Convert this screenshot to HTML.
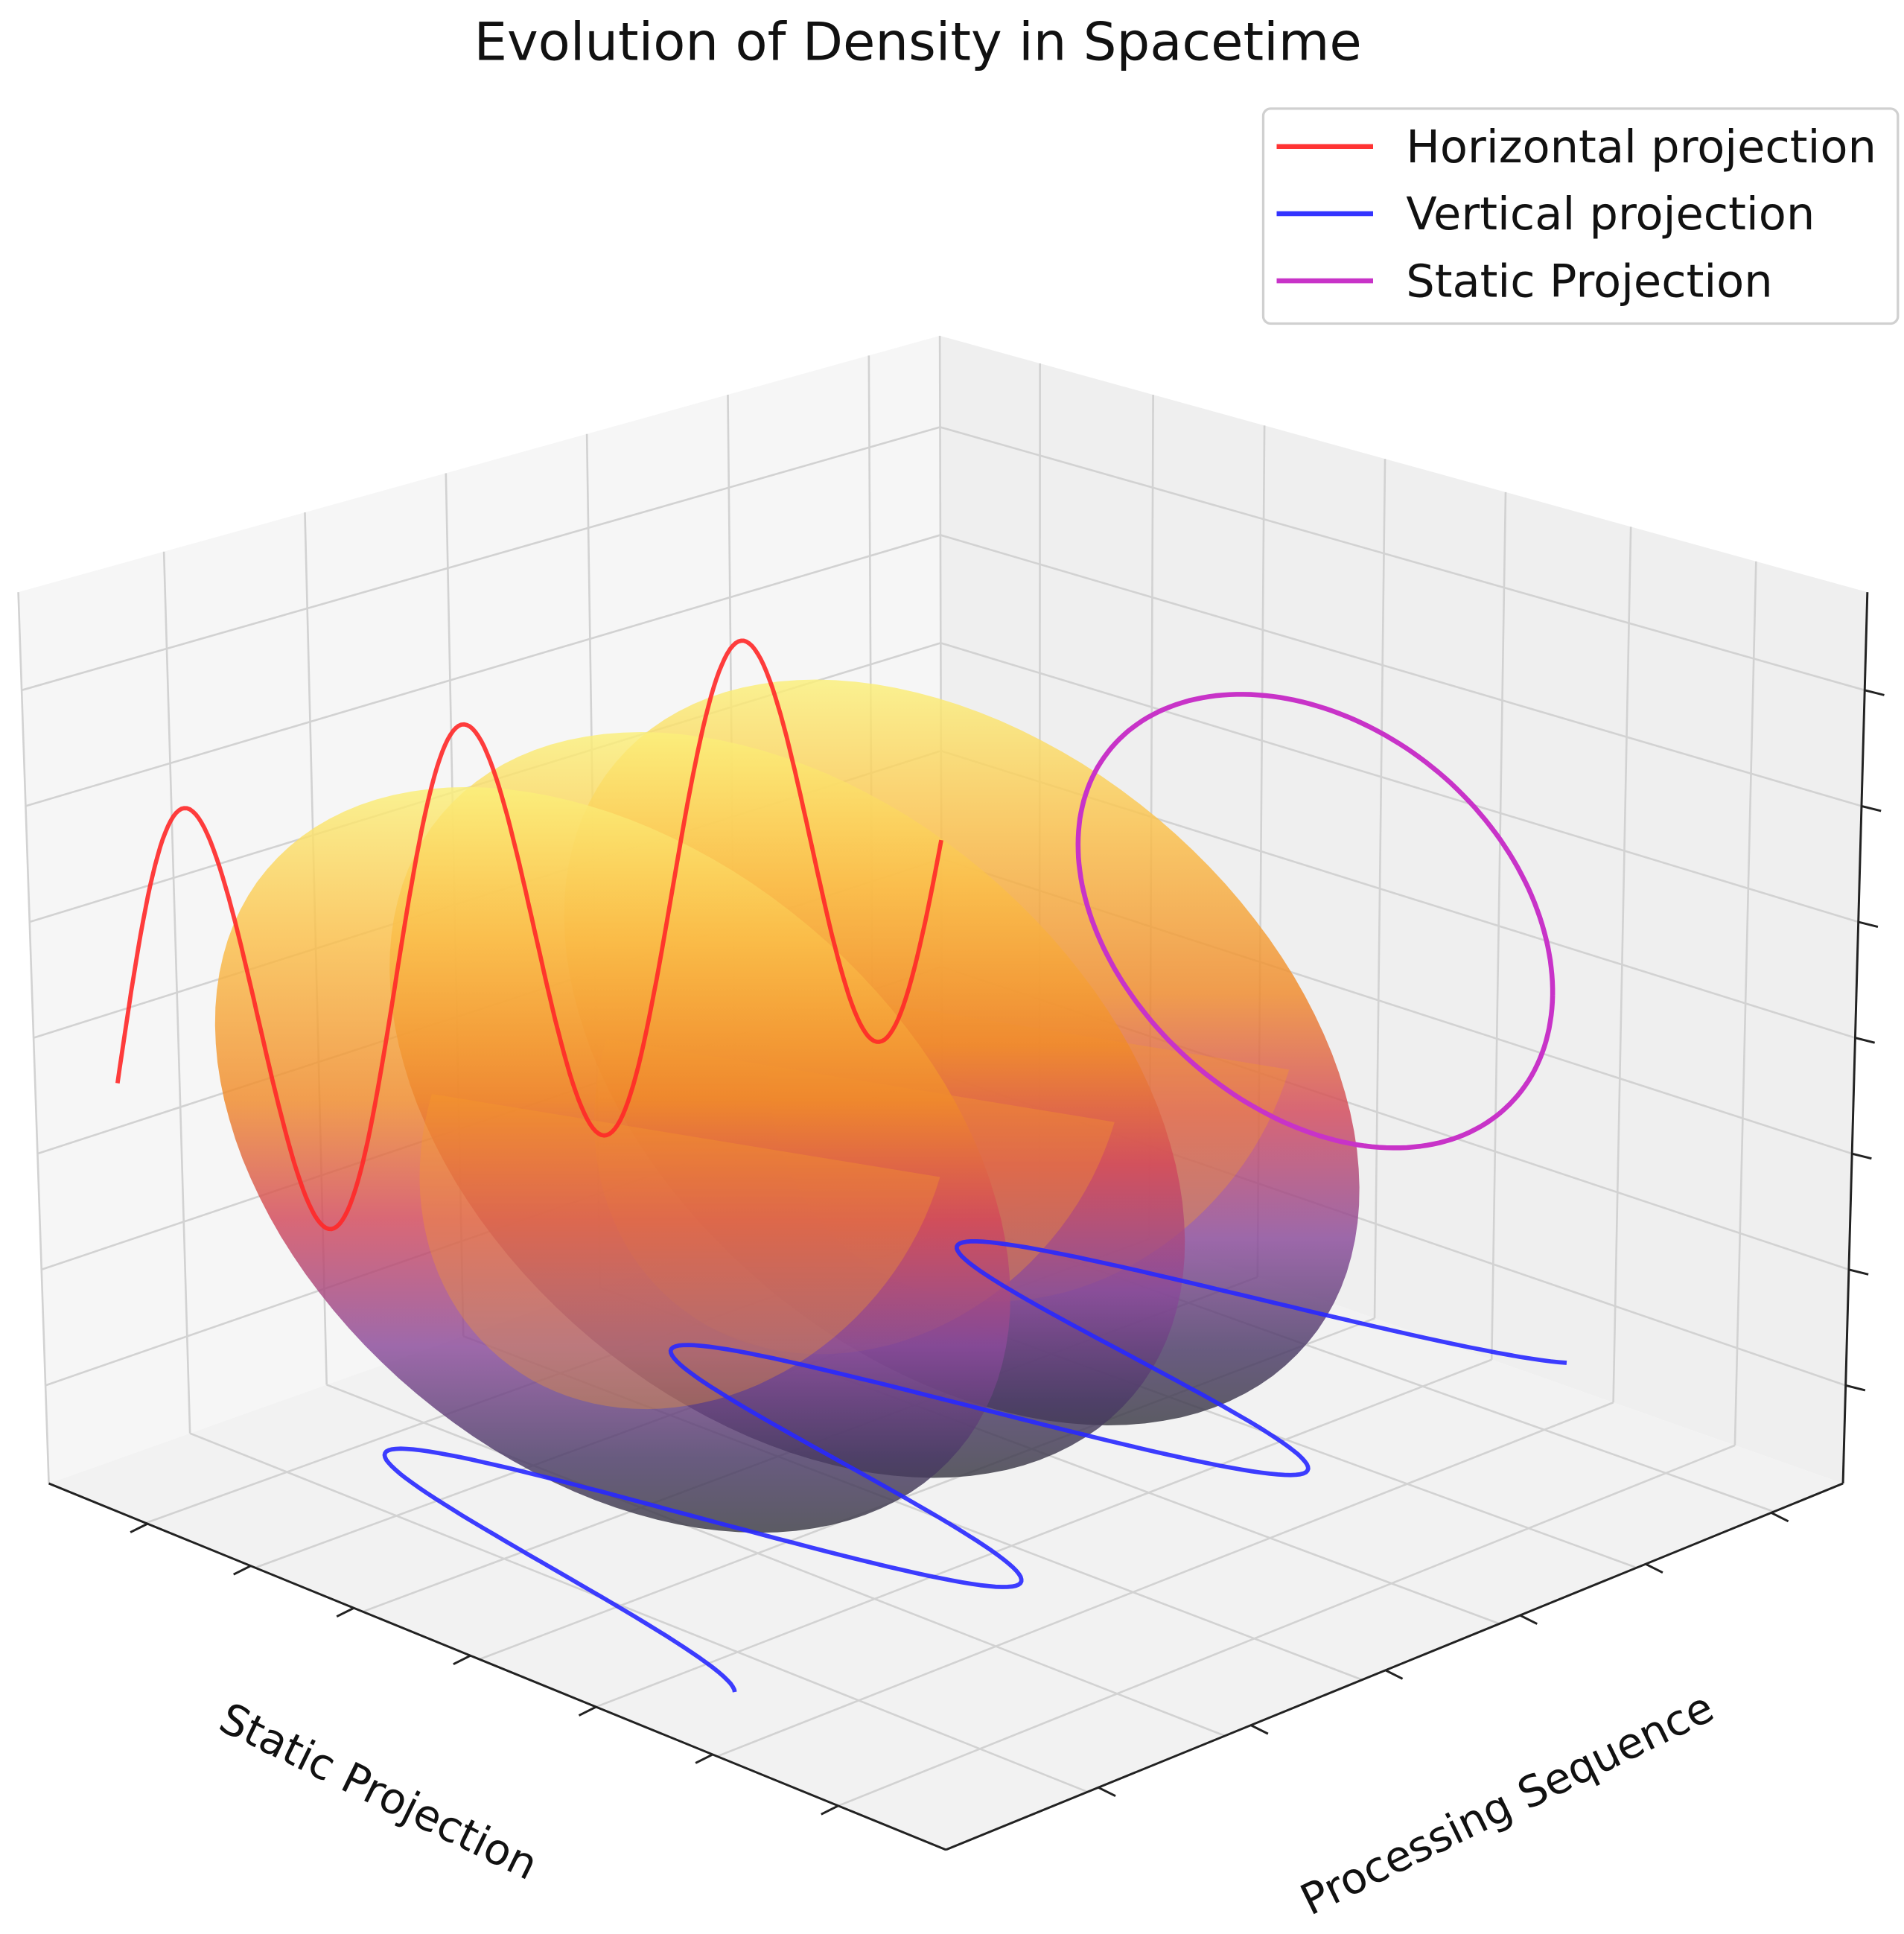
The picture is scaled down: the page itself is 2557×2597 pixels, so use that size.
<!DOCTYPE html>
<html><head><meta charset="utf-8"><style>
html,body{margin:0;padding:0;background:#fff;}
svg{display:block;font-family:"DejaVu Sans","Liberation Sans",sans-serif;}
</style></head><body>
<svg id="chart" width="2557" height="2597" viewBox="0 0 1560 1584" preserveAspectRatio="none" xmlns="http://www.w3.org/2000/svg">
<defs>
<linearGradient id="shellGrad" x1="0" y1="0" x2="0" y2="1">
<stop offset="0" stop-color="#fbf07a"/>
<stop offset="0.2" stop-color="#fbc04a"/>
<stop offset="0.42" stop-color="#f08a2a"/>
<stop offset="0.58" stop-color="#d2485a"/>
<stop offset="0.75" stop-color="#8a4a9a"/>
<stop offset="0.9" stop-color="#4a3a66"/>
<stop offset="1" stop-color="#3a3a44"/>
</linearGradient>
</defs>
<g id="walls"></g>
<g id="grid"></g>
<g id="axes"></g>
<g id="shells"></g>
<g id="series"></g>
<text x="752" y="49" font-size="43" text-anchor="middle" fill="#111">Evolution of Density in Spacetime</text>
<text x="305" y="1478" font-size="35" text-anchor="middle" fill="#111" transform="rotate(26 305 1478)">Static Projection</text>
<text x="1240" y="1488" font-size="35" text-anchor="middle" fill="#111" transform="rotate(-26 1240 1488)">Processing Sequence</text>
<g>
<rect x="1035" y="89" width="520" height="176" rx="6" fill="#fff" stroke="#d0d0d0" stroke-width="2"/>
<line x1="1046" y1="120" x2="1125" y2="120" stroke="#ff3333" stroke-width="4"/>
<text x="1152" y="133" font-size="37" fill="#111">Horizontal projection</text>
<line x1="1046" y1="175" x2="1125" y2="175" stroke="#3333ff" stroke-width="4"/>
<text x="1152" y="188" font-size="37" fill="#111">Vertical projection</text>
<line x1="1046" y1="230" x2="1125" y2="230" stroke="#c833c8" stroke-width="4"/>
<text x="1152" y="243" font-size="37" fill="#111">Static Projection</text>
</g>
</svg>
<script>
// Data (in normalized axis units)
const redParams = [0.44, 0.265, 0.305];      // center, amplitude, period along x
const redRange = [0.91, 0.0];
const blueParams = [0.40, 0.27, 0.32];       // center, amplitude, period
const blueRange = [0.90, -0.035];
const circleCenter = [0.41, 0.44];
const circleRadii = [0.26, 0.25];
const shellCenters = [[502, 950], [645, 905], [788, 862]];
const uGrid = [0.077, 0.23, 0.383, 0.536, 0.689, 0.842, 1.0];
const vGrid = [0.108, 0.23, 0.35, 0.48, 0.61, 0.745, 0.88, 1.0];
const wGrid = [0.11, 0.24, 0.37, 0.50, 0.63, 0.76, 0.89];
const xTicks = [0.11, 0.225, 0.34, 0.47, 0.61, 0.74, 0.88];
const yTicks = [0.08, 0.22, 0.36, 0.51, 0.66, 0.83];

const NS = 'http://www.w3.org/2000/svg';
const C = {
 '000':[772,955],'100':[40,1215],'010':[1510,1215],'110':[775,1515],
 '001':[770,275],'101':[15,485],'011':[1530,485],'111':[775,745]
};
function P(u,v,w){
 let x=0,y=0;
 for(const a of [0,1])for(const b of [0,1])for(const c of [0,1]){
  const wt=(a?u:1-u)*(b?v:1-v)*(c?w:1-w);
  const p=C[''+a+b+c]; x+=wt*p[0]; y+=wt*p[1];
 }
 return [x,y];
}
function el(tag,attrs,parent){const e=document.createElementNS(NS,tag);for(const k in attrs)e.setAttribute(k,attrs[k]);parent.appendChild(e);return e;}
function poly(pts){return pts.map(p=>p[0].toFixed(1)+','+p[1].toFixed(1)).join(' ');}

const walls=document.getElementById('walls');
let e;
e=el('polygon',{points:poly([C['000'],C['100'],C['101'],C['001']]),fill:'#f6f6f6'},walls);


e=el('polygon',{points:poly([C['000'],C['010'],C['011'],C['001']]),fill:'#efefef'},walls);


e=el('polygon',{points:poly([C['000'],C['100'],C['110'],C['010']]),fill:'#f2f2f2'},walls);



const grid=document.getElementById('grid');
function gl(a,b,name){const l=el('line',{x1:a[0],y1:a[1],x2:b[0],y2:b[1],stroke:'#d2d2d2','stroke-width':1.6},grid);
 
 }
for(const u of uGrid){gl(P(u,0,0),P(u,0,1),'grid-x-wall');gl(P(u,0,0),P(u,1,0),'grid-x-floor');}
for(const v of vGrid){gl(P(0,v,0),P(0,v,1),'grid-y-wall');gl(P(0,v,0),P(1,v,0),'grid-y-floor');}
for(const w of wGrid){gl(P(0,0,w),P(1,0,w),'grid-z-left');gl(P(0,0,w),P(0,1,w),'grid-z-right');}
gl(C['000'],C['001'],'grid-back-edge');

const axes=document.getElementById('axes');
function al(a,b,name){const l=el('line',{x1:a[0],y1:a[1],x2:b[0],y2:b[1],stroke:'#222','stroke-width':1.8},axes);
 
 }
al(C['100'],C['110'],'x-axis-line');
al(C['010'],C['110'],'y-axis-line');
al(C['010'],C['011'],'z-axis-line');
for(const t of xTicks){const p=P(1,t,0);al(p,[p[0]-14,p[1]+7],'x-tick');}
for(const t of yTicks){const p=P(t,1,0);al(p,[p[0]+14,p[1]+7],'y-tick');}
for(const t of wGrid){const p=P(0,1,t);al(p,[p[0]+16,p[1]+4],'z-tick');}

// shells
const shells=document.getElementById('shells');
shellCenters.slice().reverse().forEach((c,i)=>{
 const rx=370,ry=250,ang=40*Math.PI/180,pts=[];
 for(let k=0;k<=120;k++){const t=k/120*2*Math.PI;const a=rx*Math.cos(t),b=ry*Math.sin(t);
  pts.push([c[0]+a*Math.cos(ang)-b*Math.sin(ang),c[1]+a*Math.sin(ang)+b*Math.cos(ang)]);}
 const s=el('polygon',{points:poly(pts),fill:'url(#shellGrad)','fill-opacity':0.82},shells);
 
 
 const f=[];
 for(let k=0;k<=60;k++){const t=-Math.PI*0.15+k/60*Math.PI*1.0;const a=rx*0.55*Math.cos(t),b=ry*0.95*Math.sin(t);
  f.push([c[0]+60+a*Math.cos(ang)-b*Math.sin(ang),c[1]-20+a*Math.sin(ang)+b*Math.cos(ang)]);}
 const fc=el('polygon',{points:poly(f),fill:'#f59a2a','fill-opacity':0.35},shells);
 
 
});

const series=document.getElementById('series');
function path(pts,color,name,w){const p=el('polyline',{points:poly(pts),fill:'none',stroke:color,'stroke-width':w||3.5,'stroke-linejoin':'round'},series);
 
 }
// red on left wall
let pts=[];
for(let k=0;k<=300;k++){const u=redRange[0]+(redRange[1]-redRange[0])*k/300;
 const w=redParams[0]+redParams[1]*Math.sin(2*Math.PI*(0.83-u)/redParams[2]+Math.PI/2);
 pts.push(P(u,0,w));}
path(pts,'rgba(255,40,40,0.9)','horizontal-projection-line');
// blue on floor
pts=[];
for(let k=0;k<=300;k++){const u=blueRange[0]+(blueRange[1]-blueRange[0])*k/300;
 const v=blueParams[0]+blueParams[1]*Math.cos(2*Math.PI*(0.91-u)/blueParams[2]);
 pts.push(P(u,v,0));}
path(pts,'rgba(40,40,255,0.9)','vertical-projection-line');
// magenta on right wall
pts=[];
for(let k=0;k<=200;k++){const t=k/200*2*Math.PI;
 pts.push(P(0,circleCenter[0]+circleRadii[0]*Math.cos(t),circleCenter[1]+circleRadii[1]*Math.sin(t)));}
path(pts,'#c833c8','static-projection-line',4);
</script>
</body></html>
